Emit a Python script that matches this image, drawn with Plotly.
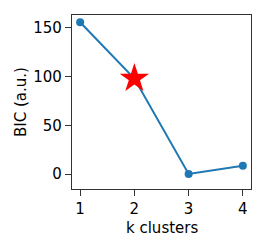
import plotly.graph_objects as go

k_values = [1, 2, 3, 4]
bic_values = [155.7, 98.0, 0.0, 8.5]
best_k = [2]
best_bic = [98.0]

line_color = "#1f77b4"
axis_color = "#333333"
font_family = "DejaVu Sans"

fig = go.Figure()
fig.add_trace(go.Scatter(
    x=k_values, y=bic_values, mode="lines+markers",
    line=dict(color=line_color, width=2),
    marker=dict(color=line_color, size=8),
    showlegend=False, hoverinfo="skip",
))
fig.add_trace(go.Scatter(
    x=best_k, y=best_bic, mode="markers",
    marker=dict(symbol="star", color="red", size=22, line=dict(width=0)),
    showlegend=False, hoverinfo="skip",
))

axis_common = dict(
    showgrid=False, zeroline=False, showline=True, mirror=True,
    linecolor=axis_color, linewidth=1.3,
    ticks="outside", ticklen=6, tickwidth=1.3, tickcolor=axis_color,
    tickfont=dict(family=font_family, size=15, color="black"),
    automargin=False,
)

fig.update_layout(
    width=266, height=250,
    margin=dict(l=72, r=15, t=15, b=61, autoexpand=False),
    paper_bgcolor="white", plot_bgcolor="white",
    font=dict(family=font_family, size=15, color="black"),
    xaxis=dict(range=[0.85, 4.15], tickvals=k_values, **axis_common),
    yaxis=dict(range=[-15.4, 163.2], tickvals=[0, 50, 100, 150], **axis_common),
    annotations=[
        dict(text="k clusters", xref="paper", yref="paper", x=0.501, y=-0.222,
             xanchor="center", yanchor="middle", showarrow=False,
             font=dict(family=font_family, size=15, color="black")),
        dict(text="BIC (a.u.)", xref="paper", yref="paper", x=-0.285, y=0.5,
             xanchor="center", yanchor="middle", showarrow=False, textangle=-90,
             font=dict(family=font_family, size=15, color="black")),
    ],
)

fig.write_html("out.html", config={"displayModeBar": False},
               post_script="document.body.style.margin='0';")
